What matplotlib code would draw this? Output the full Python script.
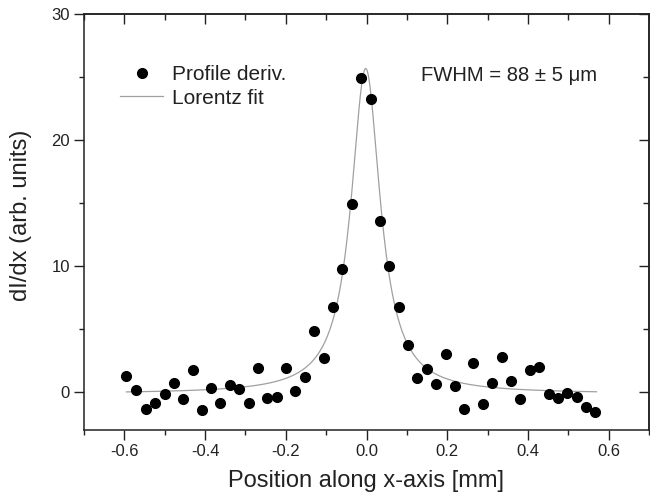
import numpy as np
import matplotlib
matplotlib.use("Agg")
import matplotlib.pyplot as plt

plt.rcParams['font.family'] = ['Liberation Sans', 'DejaVu Sans']

# Data
pos_mm = [-0.595, -0.570, -0.547, -0.523, -0.500, -0.477, -0.454, -0.431, -0.408,
          -0.385, -0.362, -0.339, -0.315, -0.292, -0.268, -0.246, -0.222, -0.199,
          -0.176, -0.153, -0.129, -0.106, -0.083, -0.060, -0.037, -0.013, 0.010,
          0.033, 0.056, 0.080, 0.103, 0.126, 0.149, 0.172, 0.196, 0.219, 0.242,
          0.265, 0.288, 0.312, 0.335, 0.358, 0.381, 0.404, 0.428, 0.451, 0.475,
          0.498, 0.521, 0.544, 0.567]
deriv = [1.29, 0.21, -1.35, -0.85, -0.18, 0.69, -0.53, 1.75, -1.40,
         0.37, -0.87, 0.58, 0.24, -0.87, 1.93, -0.48, -0.42, 1.93,
         0.06, 1.19, 4.89, 2.75, 6.75, 9.81, 14.9, 24.9, 23.25,
         13.57, 10.0, 6.72, 3.75, 1.14, 1.83, 0.63, 2.99, 0.48, -1.30,
         2.33, -0.95, 0.69, 2.80, 0.90, -0.53, 1.75, 2.01, -0.16, -0.45,
         -0.05, -0.37, -1.21, -1.61]

# Lorentz fit parameters
fit_center = -0.002
fit_fwhm = 0.088
fit_amp = 25.8
fit_base = -0.12
fit_range = [-0.595, 0.570]

xticks = [-0.6, -0.4, -0.2, 0.0, 0.2, 0.4, 0.6]
xminor = [-0.7, -0.5, -0.3, -0.1, 0.1, 0.3, 0.5, 0.7]
yticks = [0, 10, 20, 30]
yminor = [5, 15, 25]

ink = '#222222'

fig = plt.figure(figsize=(6.5, 5.03), dpi=100)
ax = fig.add_axes([84/650, 1-430/503, (649-84)/650, (430-14)/503])

xf = np.linspace(fit_range[0], fit_range[1], 600)
g = fit_fwhm / 2
yf = fit_base + fit_amp * g**2 / ((xf - fit_center)**2 + g**2)

ax.plot(pos_mm, deriv, 'o', color='black', ms=7, label='Profile deriv.', zorder=3)
ax.plot(xf, yf, '-', color='#a0a0a0', lw=0.9, label='Lorentz fit', zorder=2)

ax.set_xlim(-0.7, 0.7)
ax.set_ylim(-3, 30)
ax.set_xticks(xticks)
ax.set_xticklabels([f"{v:.1f}" for v in xticks])
ax.set_yticks(yticks)
ax.set_xticks(xminor, minor=True)
ax.set_yticks(yminor, minor=True)

for s in ax.spines.values():
    s.set_linewidth(1.1)
    s.set_color(ink)

ax.tick_params(which='both', direction='out', top=False, right=False,
               color=ink, width=1.0, labelsize=12, labelcolor=ink)
ax.tick_params(which='major', length=7, pad=3)
ax.tick_params(which='minor', length=3.5)

secx = ax.secondary_xaxis('top')
secx.set_xticks(xticks)
secx.set_xticks(xminor, minor=True)
secx.tick_params(which='both', direction='in', labeltop=False, color=ink, width=1.0)
secx.tick_params(which='major', length=7)
secx.tick_params(which='minor', length=4)
secx.spines['top'].set_linewidth(1.1)
secx.spines['top'].set_color(ink)
secy = ax.secondary_yaxis('right')
secy.set_yticks(yticks)
secy.set_yticks(yminor, minor=True)
secy.tick_params(which='both', direction='in', labelright=False, color=ink, width=1.0)
secy.tick_params(which='major', length=7)
secy.tick_params(which='minor', length=4)
secy.spines['right'].set_linewidth(1.1)
secy.spines['right'].set_color(ink)

ax.set_xlabel('Position along x-axis [mm]', fontsize=17, color=ink)
ax.set_ylabel('dI/dx (arb. units)', fontsize=17, color=ink)
ax.xaxis.set_label_coords(0.5, -0.096)
ax.yaxis.set_label_coords(-0.092, 0.517)

ax.legend(loc='upper left', bbox_to_anchor=(0.0637, 0.877), frameon=False,
          borderpad=0, borderaxespad=0,
          fontsize=15, handlelength=2.07, handletextpad=0.42, labelspacing=0.22,
          labelcolor=ink)

ax.text(0.134, 25.16, 'FWHM = 88 \u00b1 5 \u03bcm', fontsize=14.6, color=ink,
        va='center', ha='left')

fig.savefig('out.png', dpi=100)
